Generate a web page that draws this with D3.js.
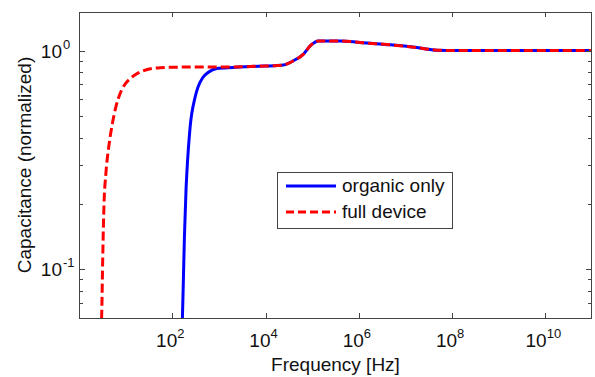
<!DOCTYPE html>
<html>
<head>
<meta charset="utf-8">
<script src="https://cdn.jsdelivr.net/npm/d3@7"></script>
<style>
  html, body { margin: 0; padding: 0; background: #fff; }
  svg { display: block; font-family: Arial, "Liberation Sans", sans-serif; }
</style>
</head>
<body>
<div id="chart"></div>
<script>
// frequency [Hz] and normalized capacitance
const organicFreq = [160, 164.8, 173, 182, 198, 205, 241, 308, 355, 447, 586, 902, 2018, 4677, 10000,
  15850, 24210, 30900, 39720, 65010, 90570, 136500, 399000, 1.07e6, 1.49e6, 4.72e6, 1.77e7, 4.74e7, 1.27e8, 1e11];
const organicCap = [0.052, 0.0598, 0.0892, 0.140, 0.237, 0.274, 0.446, 0.611, 0.68, 0.75, 0.794, 0.828, 0.837, 0.845, 0.85,
  0.853, 0.858, 0.874, 0.898, 0.963, 1.05, 1.107, 1.107, 1.088, 1.082, 1.062, 1.032, 1.004, 1.0, 1.0];

const deviceFreq = [2.95, 3.07, 3.23, 3.44, 3.75, 4.4, 5.19, 6.2, 7.59, 9.6, 12.4, 17, 23.6, 54.7, 147, 2018, 4677, 10000,
  15850, 24210, 30900, 39720, 65010, 90570, 136500, 399000, 1.07e6, 1.49e6, 4.72e6, 1.77e7, 4.74e7, 1.27e8, 1e11];
const deviceCap = [0.052, 0.063, 0.114, 0.200, 0.27, 0.37, 0.463, 0.555, 0.635, 0.70, 0.743, 0.782, 0.808, 0.835, 0.84, 0.842, 0.845, 0.85,
  0.853, 0.858, 0.874, 0.898, 0.963, 1.05, 1.107, 1.107, 1.088, 1.082, 1.062, 1.032, 1.004, 1.0, 1.0];

const seriesNames = ['organic only', 'full device'];
const xMajorTicks = [1e2, 1e4, 1e6, 1e8, 1e10];
const yMajorTicks = [0.1, 1];
const yMinorTicks = [0.07, 0.08, 0.09, 0.2, 0.3, 0.4, 0.5, 0.6, 0.7, 0.8, 0.9];

const W = 595, H = 377;
const margin = { left: 79, right: 3, top: 12, bottom: 59 };
const axisColor = '#444';
const textColor = '#111';

const svg = d3.select('#chart').append('svg')
  .attr('width', W)
  .attr('height', H);

const x = d3.scaleLog().domain([1, 1e11]).range([margin.left, W - margin.right]);
const y = d3.scaleLog().domain([0.06, 1.5]).range([H - margin.bottom, margin.top]);

const [x0, x1] = x.range();
const [y0, y1] = y.range();

svg.append('clipPath').attr('id', 'plot-clip')
  .append('rect')
  .attr('x', x0).attr('y', y1)
  .attr('width', x1 - x0).attr('height', y0 - y1);

const line = d3.line()
  .x(d => x(d[0]))
  .y(d => y(d[1]))
  .curve(d3.curveMonotoneX);

const plot = svg.append('g').attr('clip-path', 'url(#plot-clip)');

plot.append('path')
  .datum(d3.zip(organicFreq, organicCap))
  .attr('fill', 'none')
  .attr('stroke', '#0000ff')
  .attr('stroke-width', 3)
  .attr('d', line);

plot.append('path')
  .datum(d3.zip(deviceFreq, deviceCap))
  .attr('fill', 'none')
  .attr('stroke', '#ff0000')
  .attr('stroke-width', 3)
  .attr('stroke-dasharray', '9,4')
  .attr('d', line);

// axes box
const axes = svg.append('g').attr('stroke', axisColor).attr('stroke-width', 1).attr('fill', 'none');
axes.append('rect')
  .attr('x', x0 + 0.5).attr('y', y1 + 0.5)
  .attr('width', x1 - x0 - 1).attr('height', y0 - y1);

// x ticks (bottom and top)
xMajorTicks.forEach(t => {
  const px = Math.round(x(t)) + 0.5;
  axes.append('line').attr('x1', px).attr('x2', px).attr('y1', y0).attr('y2', y0 - 5);
  axes.append('line').attr('x1', px).attr('x2', px).attr('y1', y1).attr('y2', y1 + 5);
});

// y ticks (left and right)
yMajorTicks.concat(yMinorTicks).forEach(t => {
  const py = Math.round(y(t)) + 0.5;
  const len = yMajorTicks.includes(t) ? 6 : 4;
  axes.append('line').attr('x1', x0).attr('x2', x0 + len).attr('y1', py).attr('y2', py);
  axes.append('line').attr('x1', x1).attr('x2', x1 - len).attr('y1', py).attr('y2', py);
});

// tick labels as 10^n
const labels = svg.append('g').attr('fill', textColor).attr('font-size', 19);

xMajorTicks.forEach(t => {
  const e = Math.round(Math.log10(t));
  const txt = labels.append('text')
    .attr('x', x(t) - 2)
    .attr('y', y0 + 29)
    .attr('text-anchor', 'middle');
  txt.append('tspan').text('10');
  txt.append('tspan').attr('font-size', 13).attr('dy', -9).text(e);
});

yMajorTicks.forEach(t => {
  const e = Math.round(Math.log10(t));
  labels.append('text')
    .attr('x', 62).attr('y', y(t) + 7)
    .attr('text-anchor', 'end')
    .text('10');
  labels.append('text')
    .attr('x', 63).attr('y', y(t) - 2)
    .attr('font-size', 13)
    .text(e);
});

// axis titles
labels.append('text')
  .attr('x', (x0 + x1) / 2)
  .attr('y', 371)
  .attr('text-anchor', 'middle')
  .text('Frequency [Hz]');

labels.append('text')
  .attr('transform', `translate(31,${(y0 + y1) / 2}) rotate(-90)`)
  .attr('text-anchor', 'middle')
  .text('Capacitance (normalized)');

// legend
const legend = svg.append('g').attr('transform', 'translate(277,172)');
legend.append('rect')
  .attr('x', 0.5).attr('y', 0.5)
  .attr('width', 175).attr('height', 56)
  .attr('fill', '#fff')
  .attr('stroke', axisColor);

const legendStyles = [
  { color: '#0000ff', dash: null },
  { color: '#ff0000', dash: '8,4' }
];

seriesNames.forEach((name, i) => {
  const ly = 14 + i * 26;
  legend.append('line')
    .attr('x1', 9).attr('x2', 59)
    .attr('y1', ly).attr('y2', ly)
    .attr('stroke', legendStyles[i].color)
    .attr('stroke-width', 3)
    .attr('stroke-dasharray', legendStyles[i].dash);
  legend.append('text')
    .attr('x', 65).attr('y', ly + 6)
    .attr('font-size', 19)
    .attr('fill', textColor)
    .text(name);
});
</script>
</body>
</html>
